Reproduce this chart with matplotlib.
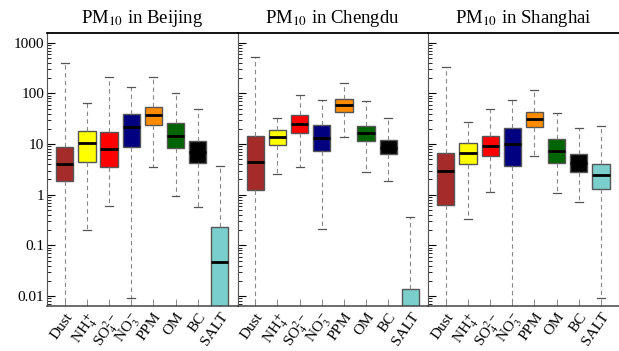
import matplotlib
matplotlib.use("Agg")
import matplotlib.pyplot as plt
from matplotlib.ticker import FixedLocator, FixedFormatter, LogLocator, NullFormatter

plt.rcParams['font.family'] = ['Liberation Serif', 'DejaVu Serif']
plt.rcParams['mathtext.fontset'] = 'stix'

species = ['Dust', r'NH$_4^+$', r'SO$_4^{2-}$', r'NO$_3^-$', 'PPM', 'OM', 'BC', 'SALT']
colors = ['#a52a2a', '#ffff00', '#ff0000', '#000080', '#ff8c00', '#006400', '#000000', '#7acfcc']
cities = ['Beijing', 'Chengdu', 'Shanghai']

# per-city box statistics (ug/m3): lower whisker, Q1, median, Q3, upper whisker
beijing_whislo = [0.001, 0.204, 0.607, 0.0090, 3.52, 0.955, 0.572, 0.0005]
beijing_q1     = [1.89, 4.42, 3.57, 8.73, 23.7, 8.47, 4.16, 0.001]
beijing_med    = [4.09, 10.3, 8.09, 21.7, 37.9, 14.6, 7.0, 0.0462]
beijing_q3     = [8.85, 18.3, 17.5, 39.2, 54.6, 25.6, 11.3, 0.233]
beijing_whishi = [392, 63.7, 207, 131, 213, 103, 48.4, 3.73]

chengdu_whislo = [0.001, 2.6, 3.57, 0.210, 14.0, 2.8, 1.89, 0.0005]
chengdu_q1     = [1.24, 9.57, 16.3, 7.18, 42.9, 11.5, 6.35, 0.001]
chengdu_med    = [4.42, 14.0, 25.2, 13.3, 58.1, 16.7, 8.5, 0.003]
chengdu_q3     = [14.4, 19.2, 37.9, 23.7, 77.4, 23.0, 11.8, 0.0137]
chengdu_whishi = [530, 33.1, 91.5, 72.8, 160, 69.7, 33.1, 0.367]

shanghai_whislo = [0.001, 0.336, 1.11, 0.001, 5.71, 1.06, 0.716, 0.0090]
shanghai_q1     = [0.635, 4.09, 5.71, 3.74, 21.7, 4.28, 2.84, 1.28]
shanghai_med    = [2.93, 6.55, 9.14, 9.86, 31.2, 7.28, 4.3, 2.45]
shanghai_q3     = [6.75, 10.6, 14.6, 20.7, 43.5, 12.6, 6.35, 4.09]
shanghai_whishi = [331, 26.8, 49.9, 75.0, 115, 40.4, 20.4, 22.4]

data = {
    'Beijing': (beijing_whislo, beijing_q1, beijing_med, beijing_q3, beijing_whishi),
    'Chengdu': (chengdu_whislo, chengdu_q1, chengdu_med, chengdu_q3, chengdu_whishi),
    'Shanghai': (shanghai_whislo, shanghai_q1, shanghai_med, shanghai_q3, shanghai_whishi),
}

ytick_vals = [0.01, 0.1, 1, 10, 100, 1000]
ytick_labels = ['0.01', '0.1', '1', '10', '100', '1000']

fig = plt.figure(figsize=(6.19, 3.51), dpi=100)
left, right, bottom, top = 0.0759, 0.9995, 0.128, 0.906
pw = (right - left) / 3

for i, city in enumerate(cities):
    ax = fig.add_axes([left + i * pw, bottom, pw, top - bottom])
    wl, q1, med, q3, wh = data[city]
    stats = []
    for k in range(len(species)):
        stats.append(dict(whislo=wl[k], q1=q1[k], med=med[k], q3=q3[k], whishi=wh[k], fliers=[]))
    bp = ax.bxp(stats, positions=range(1, len(species) + 1), widths=0.78,
                patch_artist=True, showfliers=False,
                boxprops=dict(edgecolor='#555555', linewidth=1.0),
                medianprops=dict(color='black', linewidth=2.0),
                whiskerprops=dict(color='#888888', linestyle=(0, (4, 3)), linewidth=0.8),
                capprops=dict(color='#555555', linewidth=0.9),
                capwidths=0.36)
    for patch, c in zip(bp['boxes'], colors):
        patch.set_facecolor(c)
    ax.set_yscale('log')
    ax.set_ylim(0.00635, 1553)
    ax.set_xlim(0.2, 8.8)
    ax.yaxis.set_major_locator(FixedLocator(ytick_vals))
    ax.yaxis.set_minor_locator(LogLocator(base=10, subs=range(2, 10), numticks=20))
    ax.yaxis.set_minor_formatter(NullFormatter())
    if i == 0:
        ax.yaxis.set_major_formatter(FixedFormatter(ytick_labels))
    else:
        ax.yaxis.set_major_formatter(NullFormatter())
    ax.tick_params(axis='y', which='major', direction='in', length=6, width=0.8,
                   labelsize=11, right=False, left=True, pad=2)
    ax.tick_params(axis='y', which='minor', direction='in', length=3, width=0.6, right=False)
    ax.tick_params(axis='x', which='major', direction='in', length=5, width=0.7,
                   color='#888888', labelsize=11, pad=3, top=False)
    ax.set_xticks(range(1, len(species) + 1))
    ax.set_xticklabels(species, rotation=55, ha='right', rotation_mode='anchor')
    ax.spines['top'].set_color('black')
    ax.spines['top'].set_linewidth(1.3)
    ax.spines['bottom'].set_color('#444444')
    ax.spines['bottom'].set_linewidth(1.1)
    ax.spines['left'].set_color('#555555')
    ax.spines['right'].set_color('#aaaaaa')
    ax.set_title(r'PM$_{10}$ in ' + city, fontsize=13.5, pad=7)

fig.savefig('out.png', dpi=100)
